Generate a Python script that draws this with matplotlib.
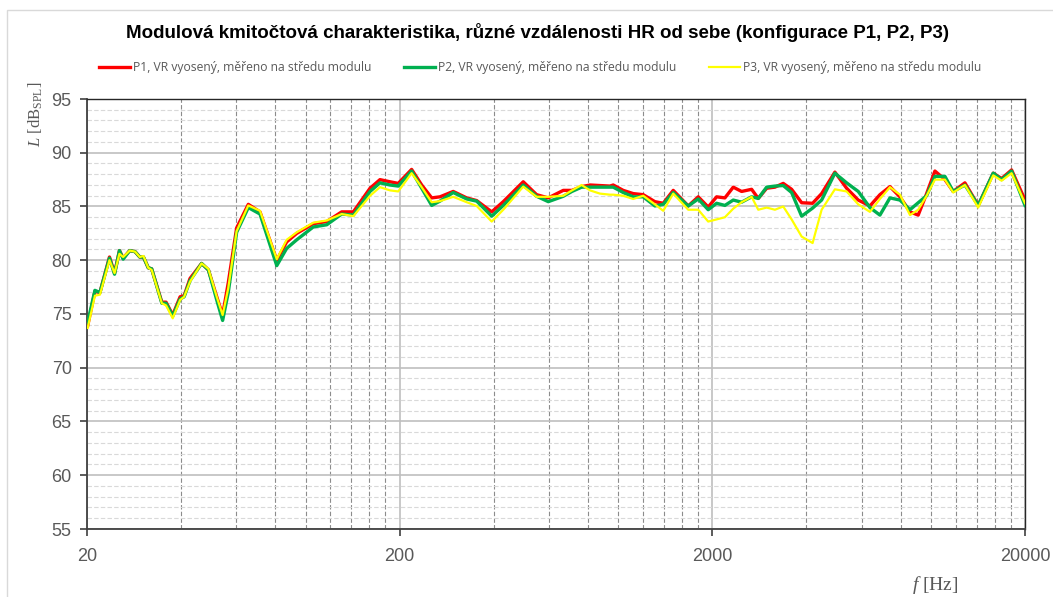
import numpy as np
import matplotlib.pyplot as plt
from matplotlib.ticker import FixedLocator, NullFormatter, MultipleLocator
from matplotlib.patches import Rectangle

plt.rcParams['font.family'] = ['Liberation Sans', 'DejaVu Sans']
plt.rcParams['mathtext.fontset'] = 'custom'
plt.rcParams['mathtext.rm'] = 'Liberation Serif'
plt.rcParams['mathtext.it'] = 'Liberation Serif:italic'

# frequency points (Hz) and levels (dB SPL)
freq = [20.1, 21.2, 22.0, 23.6, 24.5, 25.4, 26.1, 27.4, 28.5, 29.5, 30.3, 31.4, 32.2,
        34.7, 35.8, 37.6, 39.7, 40.9, 42.7, 46.5, 48.9, 52.0, 54.3, 56.6, 60.2, 65.6,
        71.5, 80.9, 87.0, 93.7, 105.9, 116.9, 130.5, 142.2, 160.8, 173, 186.2, 197.9,
        218.4, 235.2, 253.2, 269.1, 296.7, 327.6, 352.6, 393.9, 429.0, 496.9, 548.3,
        597.5, 667.2, 711.3, 763.8, 812.2, 874, 940.9, 964, 1037.6, 1116.9, 1202.2,
        1310.4, 1393, 1499.7, 1675, 1803, 1940, 2064, 2194, 2333, 2481, 2671, 2805,
        2984, 3171, 3371, 3586, 3861, 4185, 4473, 4932, 5377, 5857, 6384, 6871, 7398,
        7962, 8574, 9108, 9692, 10303, 11091, 11788, 12849, 14171, 15827, 16834,
        18119, 20000]

p1 = [73.9, 77.1, 77.0, 80.3, 78.8, 80.9, 80.2, 80.9, 80.8, 80.3, 80.3, 79.3, 79.2,
      76.1, 76.1, 74.9, 76.6, 76.7, 78.3, 79.7, 79.1, 76.6, 74.9, 77.9, 83.0, 85.2,
      84.5, 80.0, 81.7, 82.5, 83.4, 83.6, 84.5, 84.5, 86.7, 87.5, 87.3, 87.15,
      88.45, 87.0, 85.8, 85.9, 86.4, 85.8, 85.55, 84.5, 85.45, 87.3, 86.1,
      85.8, 86.5, 86.5, 86.85, 87.0, 86.95, 86.9, 87.0, 86.5, 86.2, 86.1,
      85.45, 85.3, 86.5, 85.05, 85.9, 84.95, 85.9, 85.8, 86.8, 86.4, 86.6, 85.75,
      86.7, 86.8, 87.15, 86.6, 85.35, 85.3, 86.2, 88.2, 86.7, 85.6, 85.05, 86.1, 86.85,
      85.9, 84.5, 84.2, 86.2, 88.3, 87.5, 86.4, 87.2, 85.1, 88.1, 87.6,
      88.4, 85.6]

p2 = [74.2, 77.2, 77.0, 80.2, 78.7, 80.9, 80.1, 80.9, 80.8, 80.3, 80.3, 79.3, 79.2,
      76.0, 76.0, 74.8, 76.4, 76.6, 78.1, 79.7, 79.1, 76.3, 74.4, 77.0, 82.6, 84.9,
      84.3, 79.5, 81.1, 81.9, 83.1, 83.3, 84.3, 84.2, 86.4, 87.2, 87.0, 86.9,
      88.3, 86.7, 85.1, 85.5, 86.3, 85.7, 85.5, 84.1, 85.1, 87.0, 85.95,
      85.45, 85.95, 86.4, 86.8, 86.8, 86.8, 86.8, 86.8, 86.3, 85.9, 85.9,
      85.05, 85.2, 86.3, 85.05, 85.7, 84.7, 85.3, 85.1, 85.6, 85.4, 85.9, 85.75,
      86.8, 86.9, 86.95, 86.3, 84.1, 84.85, 85.6, 88.1, 87.2, 86.4, 84.9, 84.2, 85.8,
      85.6, 84.7, 85.35, 86.0, 87.8, 87.8, 86.4, 87.0, 85.1, 88.1, 87.5,
      88.3, 85.1]

p3 = [73.7, 76.7, 76.8, 80.0, 78.8, 80.6, 80.3, 80.9, 80.8, 80.3, 80.4, 79.3, 79.1,
      76.0, 75.8, 74.6, 76.3, 76.6, 78.0, 79.7, 79.2, 76.6, 74.9, 77.4, 82.7, 85.1,
      84.6, 80.1, 81.9, 82.6, 83.5, 83.7, 84.3, 84.1, 86.0, 86.8, 86.5, 86.4,
      88.1, 86.8, 85.4, 85.5, 85.9, 85.4, 85.05, 83.6, 84.7, 86.85, 85.9,
      85.9, 86.0, 86.5, 87.0, 86.5, 86.2, 86.1, 86.1, 86.0, 85.7, 86.0,
      85.2, 84.6, 86.2, 84.7, 84.7, 83.6, 83.8, 84.0, 84.8, 85.4, 85.9, 84.7,
      84.9, 84.7, 85.0, 83.8, 82.2, 81.6, 84.7, 86.6, 86.4, 85.2, 84.5, 85.7, 86.8,
      86.1, 84.2, 84.7, 86.0, 87.5, 87.5, 86.3, 87.0, 84.9, 87.9, 87.4,
      88.1, 85.3]

labels = ['P1, VR vyosený, měřeno na středu modulu',
          'P2, VR vyosený, měřeno na středu modulu',
          'P3, VR vyosený, měřeno na středu modulu']
colors = ['#ff0000', '#00b050', '#ffff00']
widths = [2.4, 2.4, 1.6]

fig = plt.figure(figsize=(10.53, 5.97), dpi=100)
fig.patches.append(Rectangle((7 / 1053, -0.1), 1.2, 1.1 - 10 / 597, transform=fig.transFigure,
                             fill=False, edgecolor='#d9d9d9', linewidth=1))
ax = fig.add_axes([87 / 1053, 68 / 597, 938 / 1053, 430 / 597])

lines = []
for ys, c, w, lab in zip([p1, p2, p3], colors, widths, labels):
    l, = ax.plot(freq, ys, color=c, linewidth=w, label=lab, solid_joinstyle='round', zorder=3)
    lines.append(l)

ax.set_xscale('log')
ax.set_xlim(20, 20000)
ax.set_ylim(55, 95)

ax.xaxis.set_major_locator(FixedLocator([20, 200, 2000, 20000]))
ax.set_xticklabels(['20', '200', '2000', '20000'])
minors = [20 * 10 ** d * k for d in range(3) for k in range(2, 10)]
ax.xaxis.set_minor_locator(FixedLocator(minors))
ax.xaxis.set_minor_formatter(NullFormatter())
ax.yaxis.set_major_locator(MultipleLocator(5))
ax.yaxis.set_minor_locator(MultipleLocator(1))

ax.grid(which='major', axis='y', color='#bfbfbf', linewidth=1.2, linestyle='-')
ax.grid(which='minor', axis='y', color='#d9d9d9', linewidth=0.8, linestyle=(0, (4, 2)))
ax.grid(which='major', axis='x', color='#bfbfbf', linewidth=1.2, linestyle='-')
ax.grid(which='minor', axis='x', color='#8c8c8c', linewidth=0.8, linestyle=(0, (4, 2)))
ax.set_axisbelow(True)

for s in ['left', 'bottom']:
    ax.spines[s].set_color('#404040')
    ax.spines[s].set_linewidth(1.3)
for s in ['top', 'right']:
    ax.spines[s].set_color('#262626')
    ax.spines[s].set_linewidth(1.0)

ax.tick_params(which='major', direction='out', length=5, width=1.2, color='#404040',
               labelsize=13, labelcolor='#595959', pad=6)
ax.tick_params(which='minor', length=0)
ax.tick_params(axis='x', pad=9)

# axis titles in serif, y title sits near the top of the axis
fig.text(36 / 1053, 1 - 114 / 597, r'$\mathit{L}$ [dB$_\mathrm{SPL}$]', fontsize=12,
         family='Liberation Serif', color='#595959', rotation=90, ha='center', va='center')
fig.text(935 / 1053, 1 - 585 / 597, r'$\mathit{f}$ [Hz]', fontsize=14, family='Liberation Serif',
         color='#595959', ha='center', va='center')

fig.text(538 / 1053, 1 - 33 / 597,
         'Modulová kmitočtová charakteristika, různé vzdálenosti HR od sebe (konfigurace P1, P2, P3)',
         fontsize=13.5, fontweight='bold', ha='center', va='center', color='black')

leg = fig.legend(handles=lines, loc='center', bbox_to_anchor=(540 / 1053, 1 - 68 / 597), ncol=3,
                 frameon=False, handlelength=2.55, columnspacing=2.7, handletextpad=0.25,
                 prop={'family': 'Open Sans', 'size': 8.7})
for t in leg.get_texts():
    t.set_color('#595959')

fig.savefig('out.png', dpi=100)
